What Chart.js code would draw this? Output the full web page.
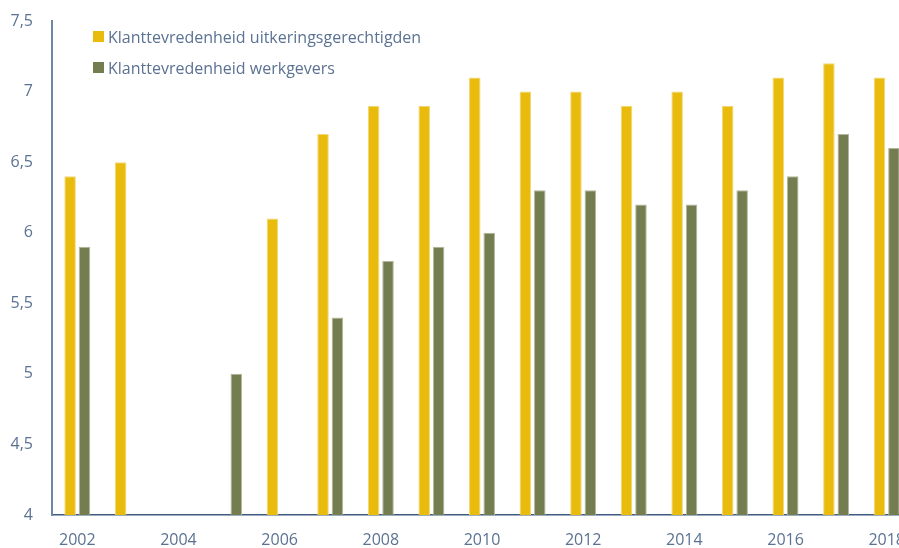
<!DOCTYPE html>
<html>
<head>
<meta charset="utf-8">
<script src="https://cdn.jsdelivr.net/npm/chart.js@4.4.0/dist/chart.umd.min.js"></script>
<style>
    html, body { margin: 0; padding: 0; background: #ffffff; overflow: hidden; }
    #wrap { position: relative; width: 912px; height: 548px; }
    #legend { position: absolute; left: 93px; top: 21px; font-family: "Open Sans", sans-serif; font-size: 16px; color: #5b7292; }
    .item { display: flex; align-items: center; height: 31px; }
    .swatch { width: 11px; height: 11px; margin-right: 4px; }
</style>
</head>
<body>
<div id="wrap">
    <canvas id="chart" width="912" height="548"></canvas>
    <div id="legend"></div>
</div>
<script>
// Klanttevredenheid per jaar

const years = ['2002', '2003', '2004', '2005', '2006', '2007', '2008', '2009', '2010',
    '2011', '2012', '2013', '2014', '2015', '2016', '2017', '2018'];
const uitkeringsgerechtigden = [6.4, 6.5, null, null, 6.1, 6.7, 6.9, 6.9, 7.1, 7.0, 7.0, 6.9, 7.0, 6.9, 7.1, 7.2, 7.1];
const werkgevers = [5.9, null, null, 5.0, null, 5.4, 5.8, 5.9, 6.0, 6.3, 6.3, 6.2, 6.2, 6.3, 6.4, 6.7, 6.6];
const seriesNames = ['Klanttevredenheid uitkeringsgerechtigden', 'Klanttevredenheid werkgevers'];
const yMin = 4, yMax = 7.5, yStep = 0.5;

const textColor = '#5b7292';
const fontFamily = '"Open Sans", sans-serif';

function formatComma(value) {
    return String(value).replace('.', ',');
}

const datasets = [
    {
        label: seriesNames[0],
        data: uitkeringsgerechtigden,
        backgroundColor: '#e8bb0c',
        borderColor: '#f2d877',
        borderWidth: 1
    },
    {
        label: seriesNames[1],
        data: werkgevers,
        backgroundColor: '#747d50',
        borderColor: '#b3b89b',
        borderWidth: 1
    }
];

const chart = new Chart(document.getElementById('chart').getContext('2d'), {
    type: 'bar',
    data: { labels: years, datasets: datasets },
    options: {
        responsive: false,
        animation: false,
        categoryPercentage: 0.57,
        barPercentage: 0.8,
        layout: { padding: { top: 21, right: 0, bottom: 0, left: 0 } },
        plugins: {
            legend: { display: false },
            tooltip: { enabled: false }
        },
        scales: {
            x: {
                grid: { display: false, drawTicks: false },
                border: { display: true, color: '#3f5a80', width: 1.5 },
                ticks: {
                    autoSkip: false,
                    maxRotation: 0,
                    padding: 16,
                    color: textColor,
                    font: { family: fontFamily, size: 16 },
                    callback: function(value, index) {
                        return index % 2 === 0 ? this.getLabelForValue(value) : '';
                    }
                },
                afterFit: function(scale) {
                    scale.height = 33;
                    scale.paddingLeft = 0;
                    scale.paddingRight = 0;
                }
            },
            y: {
                min: yMin,
                max: yMax,
                grid: { display: false, drawTicks: false },
                border: { display: true, color: '#6f87a6', width: 2 },
                ticks: {
                    stepSize: yStep,
                    padding: 19,
                    color: textColor,
                    font: { family: fontFamily, size: 16 },
                    callback: function(value) { return formatComma(value); }
                },
                afterFit: function(scale) {
                    scale.width = 52;
                    scale.paddingTop = 0;
                    scale.paddingBottom = 0;
                }
            }
        }
    }
});

// legend inside the plot, top left
const legend = document.getElementById('legend');
chart.data.datasets.forEach(function(ds) {
    const item = document.createElement('div');
    item.className = 'item';
    const sw = document.createElement('span');
    sw.className = 'swatch';
    sw.style.background = ds.backgroundColor;
    const label = document.createElement('span');
    label.textContent = ds.label;
    item.appendChild(sw);
    item.appendChild(label);
    legend.appendChild(item);
});
</script>
</body>
</html>
